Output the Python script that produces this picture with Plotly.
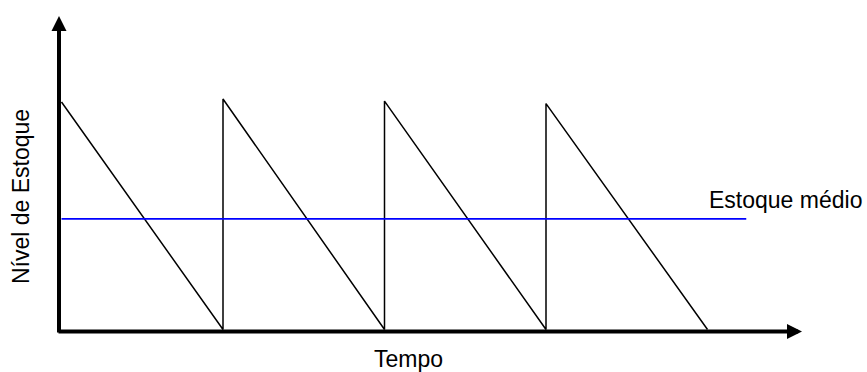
import plotly.graph_objects as go

# ---- data ----
tempo = [0, 1, 1, 2, 2, 3, 3, 4]                   # time (order cycles)
nivel = [100, 0, 101.3, 0, 100.4, 0, 99.3, 0]      # inventory level
media_t = [0, 4.24]                                # span of average line
estoque_medio = 48.6                               # average inventory level

W, H = 867, 372
# pixel calibration: t=0 -> x 61.5 px, step 161.5 px ; L=0 -> y 329.5 px, 2.275 px/unit
X0, DX = 61.5, 161.5
Y0, DY = 329.5, 2.275
x_range = [(0 - X0) / DX, (W - X0) / DX]
y_range = [(Y0 - H) / DY, (Y0 - 0) / DY]

def tx(px):
    return (px - X0) / DX

def ly(py):
    return (Y0 - py) / DY

fig = go.Figure()

fig.add_trace(go.Scatter(x=tempo, y=nivel, mode="lines",
                         line=dict(color="black", width=1.5),
                         hoverinfo="skip", showlegend=False))
fig.add_trace(go.Scatter(x=media_t, y=[estoque_medio] * len(media_t), mode="lines",
                         line=dict(color="#0000ff", width=1.8),
                         hoverinfo="skip", showlegend=False))

FONT = dict(family="Liberation Sans, Arial, sans-serif", size=23, color="black")

annotations = [
    # y axis with arrow
    dict(x=tx(59), y=ly(16), ax=tx(59), ay=ly(334), xref="x", yref="y",
         axref="x", ayref="y", showarrow=True, arrowhead=2, arrowsize=0.75,
         arrowwidth=4, arrowcolor="black", text="", standoff=0),
    # x axis with arrow
    dict(x=tx(802), y=ly(331.5), ax=tx(57), ay=ly(331.5), xref="x", yref="y",
         axref="x", ayref="y", showarrow=True, arrowhead=2, arrowsize=0.75,
         arrowwidth=4, arrowcolor="black", text="", standoff=0),
    dict(x=408.5 / W, y=1 - 359 / H, xref="paper", yref="paper", text="Tempo",
         showarrow=False, font=FONT, xanchor="center", yanchor="middle"),
    dict(x=707 / W, y=1 - 200 / H, xref="paper", yref="paper", text="Estoque médio",
         showarrow=False, font=FONT, xanchor="left", yanchor="middle"),
    dict(x=21 / W, y=1 - 197 / H, xref="paper", yref="paper", text="Nível de Estoque",
         showarrow=False, font=FONT, xanchor="center", yanchor="middle", textangle=-90),
]

fig.update_layout(
    width=W, height=H,
    margin=dict(l=0, r=0, t=0, b=0),
    paper_bgcolor="white", plot_bgcolor="white",
    xaxis=dict(range=x_range, visible=False, fixedrange=True),
    yaxis=dict(range=y_range, visible=False, fixedrange=True),
    annotations=annotations,
)

fig.write_html("out.html", config={"displayModeBar": False},
               post_script="document.body.style.margin='0';document.body.style.overflow='hidden';")
